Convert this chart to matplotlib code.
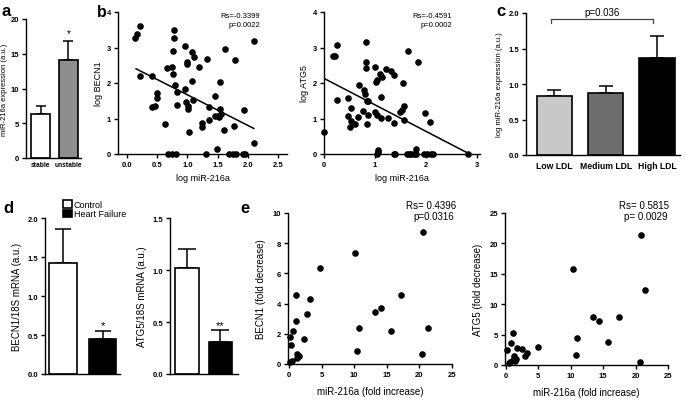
import numpy as np
import matplotlib
matplotlib.use("Agg")
import matplotlib.pyplot as plt

plt.rcParams['font.family'] = ['Liberation Sans', 'DejaVu Sans']
plt.rcParams['axes.linewidth'] = 1.0
plt.rcParams['xtick.major.width'] = 1.0
plt.rcParams['ytick.major.width'] = 1.0
plt.rcParams['xtick.major.size'] = 3
plt.rcParams['ytick.major.size'] = 3

W, H = 685, 402

# ---- data ----
# panel a
a_groups = ['stable', 'unstable']
a_vals = [6.3, 14.1]
a_err = [1.2, 2.8]
a_colors = ['white', '#8e8e8e']

# panel b (left): log miR-216a vs log BECN1
b1_x = [0.13, 0.16, 0.22, 0.22, 0.42, 0.42, 0.47, 0.49, 0.49, 0.63, 0.67, 0.74,
        0.78, 0.78, 0.77, 0.77, 0.79, 0.82, 0.83, 0.96, 0.96, 0.98, 1.0, 1.0,
        1.01, 1.01, 1.03, 1.07, 1.07, 1.11, 1.10, 1.19, 1.24, 1.25, 1.33, 1.36,
        1.35, 1.46, 1.46, 1.50, 1.53, 1.54, 1.54, 1.55, 1.62, 1.61, 1.79, 1.77,
        1.94, 2.10, 1.49, 2.10,
        0.68, 0.75, 0.81, 1.31, 1.69, 1.75, 1.80, 1.92, 1.95]
b1_y = [3.26, 3.38, 3.60, 2.19, 2.21, 1.31, 1.34, 1.72, 1.57, 0.84, 2.41, 2.44,
        3.50, 3.26, 2.89, 2.25, 1.94, 1.75, 1.38, 3.05, 1.83, 1.47, 2.60, 2.54,
        1.34, 1.28, 0.61, 2.87, 2.05, 2.72, 1.53, 2.46, 0.87, 0.77, 2.68, 1.31,
        0.97, 1.63, 1.06, 1.06, 1.03, 2.02, 1.28, 1.13, 2.96, 0.68, 2.66, 0.80,
        1.24, 3.19, 0.13, 0.30,
        0, 0, 0, 0, 0, 0, 0, 0, 0]
b1_fit_x = [0.15, 2.10]
b1_fit_y = [2.40, 0.72]

# panel b (right): log miR-216a vs log ATG5
b2_x = [0.0, 0.18, 0.21, 0.25, 0.25, 0.46, 0.46, 0.52, 0.52, 0.51, 0.61, 0.67,
        0.69, 0.78, 0.77, 0.80, 0.82, 0.82, 0.82, 0.84, 0.85, 0.86, 0.87, 1.00,
        1.02, 1.03, 1.00, 1.03, 1.10, 1.13, 1.11, 1.11, 1.21, 1.26, 1.31, 1.36,
        1.37, 1.49, 1.52, 1.55, 1.57, 1.57, 1.65, 1.83, 1.98, 2.07, 1.05, 1.06,
        1.80,
        1.03, 1.37, 1.39, 1.62, 1.66, 1.70, 1.76, 1.80, 1.96, 2.01, 2.09, 2.14, 2.82]
b2_y = [0.61, 2.77, 2.77, 3.07, 1.53, 1.57, 1.06, 1.30, 0.94, 0.77, 0.85, 1.03,
        1.94, 1.81, 1.22, 1.69, 2.41, 2.58, 3.15, 1.50, 0.85, 1.50, 1.10, 2.44,
        2.04, 2.08, 1.17, 1.10, 2.25, 2.18, 1.60, 1.01, 2.39, 1.01, 2.35, 2.23,
        0.87, 1.17, 1.24, 2.00, 1.36, 0.97, 2.89, 2.60, 1.15, 0.91, 0.07, 0.10,
        0.14,
        0, 0, 0, 0, 0, 0, 0, 0, 0, 0, 0, 0, 0]
b2_fit_x = [0.0, 2.82]
b2_fit_y = [2.13, 0.02]

# panel c
c_groups = ['Low LDL', 'Medium LDL', 'High LDL']
c_vals = [0.835, 0.873, 1.366]
c_err = [0.08, 0.094, 0.304]
c_colors = ['#c8c8c8', '#6e6e6e', '#000000']

# panel d
d_groups = ['Control', 'Heart Failure']
d1_vals = [1.42, 0.45]
d1_err = [0.44, 0.10]
d2_vals = [1.02, 0.31]
d2_err = [0.18, 0.11]

# panel e
e1_x = [0.2, 0.4, 0.1, 0.3, 0.62, 1.03, 1.03, 1.23, 1.23, 1.54, 2.26, 2.77,
        3.18, 4.72, 10.1, 10.46, 10.77, 13.18, 14.1, 15.6, 17.18, 20.46, 20.5,
        21.3]
e1_y = [0.15, 0.2, 1.77, 1.26, 2.18, 2.87, 4.57, 0.66, 0.38, 0.55, 1.66, 3.31,
        4.3, 6.34, 7.33, 0.88, 2.38, 3.42, 3.69, 2.17, 4.59, 0.66, 8.76, 2.38]
e2_x = [0.25, 0.55, 0.65, 0.82, 1.17, 1.17, 1.28, 1.43, 1.43, 1.7, 1.6, 2.46,
        2.97, 3.33, 4.92, 10.31, 10.77, 11.02, 13.48, 14.36, 15.79, 17.44, 20.67,
        20.77, 21.44]
e2_y = [2.52, 0.33, 0.55, 3.6, 0.88, 5.26, 1.53, 1.1, 0.71, 2.8, 0.99, 2.63,
        1.53, 1.97, 2.96, 15.8, 1.64, 4.39, 7.84, 7.18, 3.73, 7.95, 0.55, 21.43,
        12.34]


def px_axes(fig, left, top, right, bottom):
    return fig.add_axes([left / W, 1 - bottom / H, (right - left) / W, (bottom - top) / H])


def style(ax, fs=5.5):
    ax.spines['top'].set_visible(False)
    ax.spines['right'].set_visible(False)
    ax.tick_params(labelsize=fs, pad=2)
    for lab in ax.get_xticklabels() + ax.get_yticklabels():
        lab.set_fontweight('bold')


def ftext(x, y, s, **kw):
    fig.text(x / W, 1 - y / H, s, **kw)


fig = plt.figure(figsize=(W / 100, H / 100), dpi=100)

# ---- a ----
ax = px_axes(fig, 26, 20, 81, 159)
xa = np.arange(len(a_groups))
ax.bar(xa, a_vals, width=0.68, color=a_colors, edgecolor='black', linewidth=1.2, zorder=2)
ax.errorbar(xa, a_vals, yerr=[np.zeros(2), a_err], fmt='none', ecolor='black',
            elinewidth=1.1, capsize=3.6, capthick=1.1, zorder=1)
ax.set_xlim(-0.52, 1.45)
ax.set_ylim(0, 20)
ax.set_yticks([0, 5, 10, 15, 20])
ax.set_xticks(xa)
ax.set_xticklabels(a_groups)
ax.tick_params(axis='x', length=0)
style(ax)
ax.tick_params(axis='x', labelsize=4.8)
ax.text(1, a_vals[1] + a_err[1] + 0.3, '*', ha='center', va='bottom', fontsize=7)
ax.set_ylabel('miR-216a expression (a.u.)', fontsize=5.5, labelpad=2)
ftext(1, 16, 'a', fontsize=12, fontweight='bold')

# ---- b left ----
ax = px_axes(fig, 118, 13, 287, 155)
ax.scatter(b1_x, b1_y, s=14, color='black', zorder=3, clip_on=False)
ax.plot(b1_fit_x, b1_fit_y, color='black', lw=1.1)
ax.set_xlim(-0.149, 2.65)
ax.set_ylim(0, 4)
ax.set_xticks([0, 0.5, 1.0, 1.5, 2.0, 2.5])
ax.set_xticklabels(['0.0', '0.5', '1.0', '1.5', '2.0', '2.5'])
ax.set_yticks([0, 1, 2, 3, 4])
style(ax)
ax.set_xlabel('log miR-216a', fontsize=6.5, labelpad=4)
ax.set_ylabel('log BECN1', fontsize=6.5, labelpad=3)
ftext(260, 18, 'Rs=-0.3399', fontsize=5.5, ha='right')
ftext(260, 27, 'p=0.0022', fontsize=5.5, ha='right')
ftext(97, 17, 'b', fontsize=11.5, fontweight='bold')

# ---- b right ----
ax = px_axes(fig, 324, 13, 480, 155)
ax.scatter(b2_x, b2_y, s=14, color='black', zorder=3, clip_on=False)
ax.plot(b2_fit_x, b2_fit_y, color='black', lw=1.1)
ax.set_xlim(0, 3.05)
ax.set_ylim(0, 4)
ax.set_xticks([0, 1, 2, 3])
ax.set_yticks([0, 1, 2, 3, 4])
style(ax)
ax.set_xlabel('log miR-216a', fontsize=6.5, labelpad=4)
ax.set_ylabel('log ATG5', fontsize=6.5, labelpad=3)
ftext(452, 18, 'Rs=-0.4591', fontsize=5.5, ha='right')
ftext(452, 27, 'p=0.0002', fontsize=5.5, ha='right')

# ---- c ----
ax = px_axes(fig, 526, 14, 680, 156)
xc = np.arange(len(c_groups))
ax.bar(xc, c_vals, width=0.69, color=c_colors, edgecolor='black', linewidth=1.2, zorder=2)
ax.errorbar(xc, c_vals, yerr=[np.zeros(3), c_err], fmt='none', ecolor='black',
            elinewidth=1.1, capsize=4.7, capthick=1.1, zorder=1)
ax.set_xlim(-0.55, 2.45)
ax.set_ylim(0, 2.0)
ax.set_yticks([0, 0.5, 1.0, 1.5, 2.0])
ax.set_yticklabels(['0.0', '0.5', '1.0', '1.5', '2.0'])
ax.set_xticks(xc)
ax.set_xticklabels(c_groups)
ax.tick_params(axis='x', length=0)
style(ax)
ax.tick_params(axis='x', labelsize=6.2, pad=4)
ax.plot([-0.07, -0.07, 1.93, 1.93], [1.86, 1.91, 1.91, 1.86], color='#444444', lw=0.9)
ax.text(0.93, 1.95, 'p=0.036', ha='center', va='bottom', fontsize=7)
ax.set_ylabel('log miR-216a expression (a.u.)', fontsize=5.5, labelpad=4)
ftext(496, 16, 'c', fontsize=12, fontweight='bold')

# ---- d ----
for left, right, vals, errs, ymax, ylab, xl, cap, stars, yt in [
        (45, 120, d1_vals, d1_err, 2.0, 'BECN1/18S mRNA (a.u.)', (-0.45, 1.44), 5.6, '*',
         [0, 0.5, 1.0, 1.5, 2.0]),
        (170, 238, d2_vals, d2_err, 1.5, 'ATG5/18S mRNA (a.u.)', (-0.51, 1.53), 6.5, '**',
         [0, 0.5, 1.0, 1.5])]:
    ax = px_axes(fig, left, 219.3, right, 375)
    xd = np.arange(2)
    bars = ax.bar(xd, vals, width=0.7, color=['white', 'black'], edgecolor='black',
                  linewidth=1.2, zorder=2)
    ax.errorbar(xd, vals, yerr=[np.zeros(2), errs], fmt='none', ecolor='black',
                elinewidth=1.1, capsize=cap, capthick=1.1, zorder=1)
    ax.set_xlim(*xl)
    ax.set_ylim(0, ymax)
    ax.set_yticks(yt)
    ax.set_yticklabels(['%.1f' % v for v in yt])
    ax.set_xticks([])
    style(ax)
    ax.text(1, vals[1] + errs[1] + ymax * 0.005, stars, ha='center', va='bottom', fontsize=8)
    ax.set_ylabel(ylab, fontsize=7, labelpad=4)
    if left == 45:
        ax.legend(bars, d_groups, loc='upper left', bbox_to_anchor=(63 / W, 1 - 201 / H),
                  bbox_transform=fig.transFigure, frameon=False, fontsize=6.5,
                  handlelength=1.0, handleheight=0.9, handletextpad=0.2,
                  labelspacing=0.05, borderpad=0, borderaxespad=0)
ftext(3, 213, 'd', fontsize=12, fontweight='bold')

# ---- e ----
for left, right, bottom, xs, ys, ymax, yt, ylab, rs, pv, tx in [
        (288.3, 452, 365, e1_x, e1_y, 10, [0, 2, 4, 6, 8, 10], 'BECN1 (fold decrease)',
         'Rs= 0.4396', 'p=0.0316', 456),
        (505, 668.3, 366, e2_x, e2_y, 25, [0, 5, 10, 15, 20, 25], 'ATG5 (fold decrease)',
         'Rs= 0.5815', 'p= 0.0029', 669)]:
    ax = px_axes(fig, left, 214, right, bottom)
    ax.scatter(xs, ys, s=14, color='black', zorder=3, clip_on=False)
    ax.set_xlim(-0.1, 25)
    ax.set_ylim(0, ymax)
    ax.set_xticks([0, 5, 10, 15, 20, 25])
    ax.set_yticks(yt)
    style(ax)
    ax.set_xlabel('miR-216a (fold increase)', fontsize=7, labelpad=6)
    ax.set_ylabel(ylab, fontsize=7, labelpad=5)
    ftext(tx, 209, rs, fontsize=7, ha='right')
    ftext(tx - 2, 220, pv, fontsize=7, ha='right')
ftext(240, 213, 'e', fontsize=12, fontweight='bold')

fig.savefig('out.png', dpi=100)
